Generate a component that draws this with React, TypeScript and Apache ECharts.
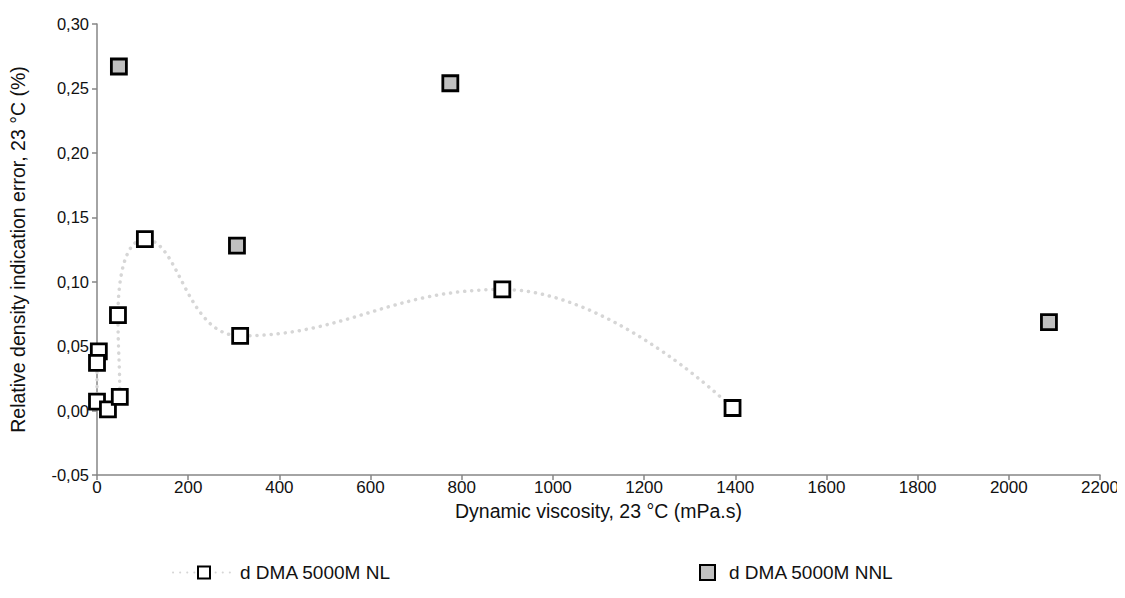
import React, { useEffect, useRef } from "react";
import * as echarts from "echarts";

// Dynamic viscosity (mPa.s) and relative density indication error (%) at 23 °C
const nlViscosity = [4, 0, 0, 24, 50, 46, 105, 314, 889, 1394];
const nlError = [0.046, 0.037, 0.007, 0.001, 0.0106, 0.074, 0.133, 0.058, 0.094, 0.002];

const nnlViscosity = [48, 307, 775, 2088];
const nnlError = [0.267, 0.128, 0.254, 0.0687];

const xTicks = { min: 0, max: 2200, interval: 200 };
const yTicks = { min: -0.05, max: 0.3, interval: 0.05 };

const seriesNames = ["d DMA 5000M NL", "d DMA 5000M NNL"];

const FONT = "Liberation Sans, Arial, sans-serif";
const AXIS_GREY = "#868686";

export default function App() {
  const ref = useRef<HTMLDivElement>(null);

  useEffect(() => {
    if (!ref.current) return;
    const chart = echarts.init(ref.current, undefined, { renderer: "svg" });

    const nlData = nlViscosity.map((x, i) => [x, nlError[i]]);
    const nnlData = nnlViscosity.map((x, i) => [x, nnlError[i]]);

    chart.setOption({
      animation: false,
      backgroundColor: "#ffffff",
      textStyle: { fontFamily: FONT },
      grid: { left: 97, right: 25, top: 24, bottom: 123, containLabel: false },
      xAxis: {
        type: "value",
        min: xTicks.min,
        max: xTicks.max,
        interval: xTicks.interval,
        name: "Dynamic viscosity, 23 °C (mPa.s)",
        nameLocation: "middle",
        nameGap: 15,
        nameTextStyle: { fontSize: 19.5, color: "#111", fontFamily: FONT },
        axisLine: { onZero: false, lineStyle: { color: AXIS_GREY, width: 1.5 } },
        axisTick: { show: true, length: 5, lineStyle: { color: AXIS_GREY, width: 1.5 } },
        axisLabel: {
          fontSize: 17,
          color: "#111",
          margin: 4,
          fontFamily: FONT,
          formatter: (v: number) => String(v),
        },
        splitLine: { show: false },
      },
      yAxis: {
        type: "value",
        min: yTicks.min,
        max: yTicks.max,
        interval: yTicks.interval,
        name: "Relative density indication error, 23 °C (%)",
        nameLocation: "middle",
        nameGap: 69,
        nameTextStyle: { fontSize: 19.5, color: "#111", fontFamily: FONT },
        axisLine: { show: true, lineStyle: { color: AXIS_GREY, width: 1.5 } },
        axisTick: { show: true, length: 5, lineStyle: { color: AXIS_GREY, width: 1.5 } },
        axisLabel: {
          fontSize: 16.5,
          color: "#111",
          margin: 8,
          fontFamily: FONT,
          formatter: (v: number) => v.toFixed(2).replace(".", ","),
        },
        splitLine: { show: false },
      },
      legend: [
        {
          data: [seriesNames[0]],
          left: 167,
          top: 558,
          itemWidth: 62,
          itemHeight: 15,
          textStyle: { fontSize: 19, color: "#111", fontFamily: FONT },
        },
        {
          data: [seriesNames[1]],
          left: 694,
          top: 558,
          itemWidth: 15,
          itemHeight: 15,
          textStyle: { fontSize: 19, color: "#111", fontFamily: FONT, padding: [0, 0, 0, 9] },
        },
      ],
      series: [
        {
          name: seriesNames[0],
          type: "line",
          data: nlData,
          smooth: 0.45,
          symbol: "rect",
          symbolSize: 15,
          showAllSymbol: true,
          lineStyle: { color: "#d6d6d6", width: 3.5, type: [0.1, 7], cap: "round" },
          itemStyle: { color: "#ffffff", borderColor: "#000000", borderWidth: 2.8 },
          z: 3,
        },
        {
          name: seriesNames[1],
          type: "scatter",
          data: nnlData,
          symbol: "rect",
          symbolSize: 15,
          itemStyle: { color: "#c0c0c0", borderColor: "#000000", borderWidth: 2.8, opacity: 1 },
          z: 4,
        },
      ],
    });

    return () => chart.dispose();
  }, []);

  return <div ref={ref} style={{ width: 1125, height: 598, margin: -8 }} />;
}
